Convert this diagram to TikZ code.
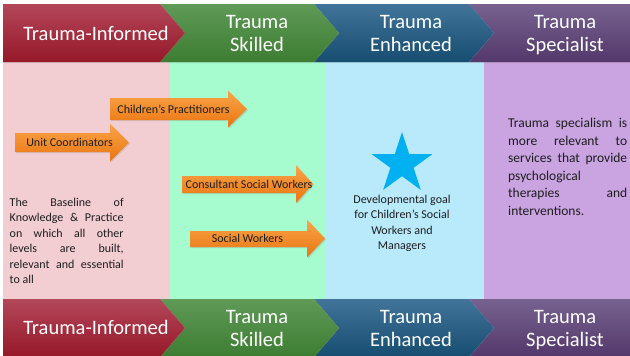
\documentclass[tikz,border=0pt]{standalone}
\usepackage{fontspec}
\setmainfont{Carlito}
\usetikzlibrary{shapes.geometric,shadows}
\definecolor{pinkP}{HTML}{F2CED3}
\definecolor{greenP}{HTML}{A6FBCF}
\definecolor{blueP}{HTML}{B9EAFC}
\definecolor{purpP}{HTML}{C9A4E1}
\definecolor{redT}{HTML}{B3475A}
\definecolor{redB}{HTML}{951828}
\definecolor{grnT}{HTML}{5F9A57}
\definecolor{grnB}{HTML}{3D7D32}
\definecolor{bluT}{HTML}{417498}
\definecolor{bluB}{HTML}{164D71}
\definecolor{purT}{HTML}{77628F}
\definecolor{purB}{HTML}{53386B}
\definecolor{orT}{HTML}{F9A54A}
\definecolor{orB}{HTML}{EA7510}
\definecolor{starC}{HTML}{00B0F0}
\definecolor{txtC}{HTML}{1E1E1E}
\begin{document}
\begin{tikzpicture}[x=1pt,y=-1pt,
  hdr/.style={text=white,font=\fontsize{20.5}{23}\selectfont,align=center,inner sep=0pt},
  arrtxt/.style={text=txtC,font=\fontsize{12}{14}\selectfont,inner sep=0pt},
  bodytxt/.style={text=txtC,font=\fontsize{12}{15.4}\selectfont,align=left,inner sep=0pt},
  midtxt/.style={text=txtC,font=\fontsize{12}{15.3}\selectfont,align=center,inner sep=0pt},
  spectxt/.style={text=txtC,font=\fontsize{13.5}{17.5}\selectfont,align=left,inner sep=0pt},
  oarrow/.style={top color=orT,bottom color=orB,drop shadow={opacity=0.25,shadow xshift=1pt,shadow yshift=-1.2pt}},
  chev/.style={drop shadow={opacity=0.2,shadow xshift=0pt,shadow yshift=-1pt}}]
\useasboundingbox (0,0) rectangle (630,356);
\fill[white] (0,0) rectangle (630,356);
% panels
\fill[pinkP] (3,62) rectangle (170,300);
\fill[greenP] (170,62) rectangle (325,300);
\fill[blueP] (325,62) rectangle (484,300);
\fill[purpP] (484,62) rectangle (630,300);
% chevron bands
\foreach \dy in {0,295}{
\begin{scope}[shift={(0,\dy)}]
\path[chev,top color=purT,bottom color=purB] (469,4) -- (630,4) -- (630,62) -- (469,62) -- (494,33) -- cycle;
\path[chev,top color=bluT,bottom color=bluB] (314,4) -- (469,4) -- (494,33) -- (469,62) -- (314,62) -- (339,33) -- cycle;
\path[chev,top color=grnT,bottom color=grnB] (160,4) -- (314,4) -- (339,33) -- (314,62) -- (160,62) -- (185,33) -- cycle;
\path[chev,top color=redT,bottom color=redB] (3,4) -- (160,4) -- (185,33) -- (160,62) -- (3,62) -- cycle;
\end{scope}}
% header texts
\node[hdr] (tInf) at (96,33) {Trauma-Informed};
\node[hdr] (tSk) at (257,33) {Trauma\\Skilled};
\node[hdr] (tEn) at (411,33.5) {Trauma\\Enhanced};
\node[hdr] (tSp) at (565,35) {Trauma\\Specialist};
\node[hdr] (bInf) at (96,327) {Trauma-Informed};
\node[hdr] (bSk) at (257,328) {Trauma\\Skilled};
\node[hdr] (bEn) at (411,328.5) {Trauma\\Enhanced};
\node[hdr] (bSp) at (565,330) {Trauma\\Specialist};
% orange arrows
\path[oarrow] (110,98) -- (228,98) -- (228,90.5) -- (247,109) -- (228,127.5) -- (228,120) -- (110,120) -- cycle;
\path[oarrow] (15,133) -- (110,133) -- (110,123.5) -- (129,142.5) -- (110,161.5) -- (110,152) -- (15,152) -- cycle;
\path[oarrow] (182,176) -- (296,176) -- (296,165) -- (313,184) -- (296,203) -- (296,193) -- (182,193) -- cycle;
\path[oarrow] (190,231) -- (307,231) -- (307,219.5) -- (325,238.5) -- (307,257.5) -- (307,247) -- (190,247) -- cycle;
\node[arrtxt] (cp) at (173.5,109) {Children’s Practitioners};
\node[arrtxt] (uc) at (69.5,142) {Unit Coordinators};
\node[arrtxt] (csw) at (249,184.5) {Consultant Social Workers};
\node[arrtxt] (sw) at (247.5,238.5) {Social Workers};
% star
\node[star,star points=5,star point ratio=2.618,minimum size=64pt,inner sep=0pt,fill=starC] (goal) at (402,164) {};
\node[midtxt,anchor=north] (dev) at (402,195) {Developmental goal\\for Children’s Social\\Workers and\\Managers};
% pink text
\node[bodytxt,anchor=north west] (baseline) at (9.5,198) {\makebox[114pt][s]{The Baseline of}\\\makebox[114pt][s]{Knowledge \& Practice}\\\makebox[114pt][s]{on which all other}\\\makebox[114pt][s]{levels are built,}\\\makebox[114pt][s]{relevant and essential}\\to all};
% purple text
\node[spectxt,anchor=north west] (spec) at (508,118) {\makebox[119pt][s]{Trauma specialism is}\\\makebox[119pt][s]{more relevant to}\\\makebox[119pt][s]{services that provide}\\psychological\\\makebox[119pt][s]{therapies and}\\interventions.};
\end{tikzpicture}
\end{document}
